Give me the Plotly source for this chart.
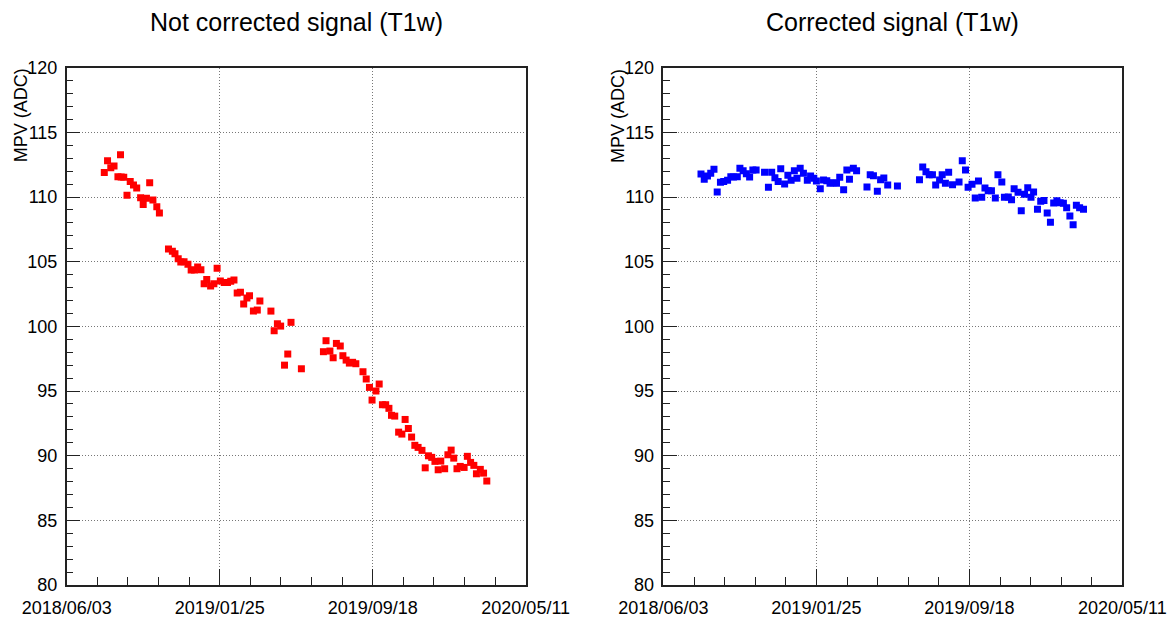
import plotly.graph_objects as go
import pandas as pd
import numpy as np

# ---------------- data ----------------
start_date = "2018-06-03"
end_date = "2020-05-11"
tick_dates = ["2018-06-03", "2019-01-25", "2019-09-18", "2020-05-11"]
tick_labels = ["2018/06/03", "2019/01/25", "2019/09/18", "2020/05/11"]
y_ticks = [80, 85, 90, 95, 100, 105, 110, 115, 120]

titles = ["Not corrected signal (T1w)", "Corrected signal (T1w)"]
y_title = "MPV (ADC)"

# days since 2018-06-03
red_days = [58, 63, 68, 73, 83, 79, 84, 88, 93, 98, 103, 108, 114, 118, 123, 128, 133, 139, 143, 157,
            163, 167, 172, 176, 181, 187, 192, 197, 202, 207, 212, 216, 222, 227, 232, 237, 243, 248, 253, 258,
            263, 268, 273, 278, 282, 288, 294, 298, 315, 320, 325, 330, 336, 341, 346, 362, 396, 400, 406, 411,
            416, 422, 426, 431, 436, 441, 446, 457, 462, 467, 471, 477, 482, 487, 492, 497, 501, 506, 512, 517,
            522, 527, 532, 537, 542, 548, 553, 558, 563, 568, 573, 577, 583, 588, 593, 597, 602, 607, 613, 618,
            623, 628, 632, 638, 643, 648]
red_mpv = [111.9, 112.8, 112.27, 112.4, 113.27, 111.57, 111.55, 111.52, 110.13, 111.2,
           110.93, 110.7, 109.95, 109.43, 109.9, 111.1, 109.77, 109.25, 108.76, 105.98,
           105.8, 105.62, 105.23, 104.97, 105.0, 104.8, 104.35, 104.35, 104.58, 104.38,
           103.3, 103.63, 103.12, 103.3, 104.49, 103.5, 103.4, 103.4, 103.48, 103.58,
           102.58, 102.63, 101.72, 102.19, 102.37, 101.18, 101.26, 101.96, 101.18, 99.66,
           100.2, 100.02, 97.0, 97.86, 100.31, 96.72, 98.04, 98.89, 98.09, 97.57,
           98.68, 98.48, 97.73, 97.39, 97.16, 97.22, 97.11, 96.49, 95.93, 95.28,
           94.3, 95.0, 95.54, 93.94, 93.94, 93.66, 93.12, 93.06, 91.82, 91.67,
           92.8, 92.1, 91.44, 90.8, 90.64, 90.41, 89.06, 89.99, 89.87, 89.56,
           88.91, 89.58, 88.99, 90.07, 90.43, 89.81, 88.99, 89.17, 89.09, 89.95,
           89.48, 89.25, 88.6, 88.94, 88.65, 88.04]

blue_days = [58, 63, 68, 73, 78, 83, 88, 93, 99, 104, 108, 114, 118, 123, 128, 133, 138, 143, 156, 162,
             167, 172, 177, 181, 187, 192, 197, 202, 206, 211, 216, 222, 227, 232, 236, 242, 247, 252, 257, 262,
             267, 272, 278, 283, 287, 293, 298, 314, 319, 324, 330, 335, 340, 346, 361, 395, 400, 405, 410, 415,
             420, 426, 430, 435, 440, 446, 456, 461, 466, 470, 476, 481, 486, 491, 496, 501, 506, 512, 516, 522,
             526, 532, 537, 541, 547, 552, 557, 562, 567, 571, 577, 582, 587, 592, 597, 602, 607, 612, 617, 622,
             627, 632, 637, 642, 648]
blue_mpv = [111.78, 111.37, 111.62, 111.83, 112.14, 110.39, 111.14, 111.21, 111.29, 111.57,
            111.55, 111.57, 112.22, 112.03, 111.8, 111.55, 112.09, 112.09, 111.91, 110.75,
            111.91, 111.49, 111.21, 112.19, 111.0, 111.68, 111.29, 112.03, 111.45, 112.22,
            111.83, 111.29, 111.62, 111.45, 111.24, 110.64, 111.31, 111.26, 111.06, 111.11,
            111.06, 111.52, 110.56, 112.09, 111.37, 112.22, 112.03, 110.77, 111.72, 111.65,
            110.44, 111.34, 111.47, 110.93, 110.85, 111.34, 112.32, 111.96, 111.72, 111.72,
            110.93, 111.31, 111.72, 111.06, 111.91, 110.95, 111.16, 112.81, 112.09, 110.75,
            110.98, 109.92, 111.24, 109.98, 110.7, 110.49, 110.49, 109.92, 111.72, 111.16,
            109.98, 110.0, 109.79, 110.64, 110.36, 108.94, 110.21, 110.72, 109.98, 110.39,
            109.05, 109.67, 109.74, 108.76, 108.04, 109.54, 109.71, 109.56, 109.51, 109.17,
            108.53, 107.86, 109.36, 109.17, 109.05]

# ---------------- figure ----------------
W, H = 1167, 617
base = pd.Timestamp(start_date)
red_x = base + pd.to_timedelta(red_days, unit="D")
blue_x = base + pd.to_timedelta(blue_days, unit="D")

t0 = pd.Timestamp(start_date)
t1 = pd.Timestamp(end_date)
minor_x = [t0 + (t1 - t0) * k / 15 for k in range(16)]

FONT = "Liberation Sans, Arial, Helvetica, sans-serif"
AX = "#222222"
GRID = "#777777"


def fx(p):
    return p / W


def fy(p):
    return 1 - p / H


panels = [(66.7, 525.7), (663.4, 1122.4)]
y_top, y_bot = 67.7, 585.0

fig = go.Figure()
fig.add_trace(go.Scatter(x=red_x, y=red_mpv, mode="markers", xaxis="x", yaxis="y",
                         marker=dict(symbol="square", size=7, color="#ff0000", line=dict(width=0)),
                         showlegend=False, hoverinfo="x+y"))
fig.add_trace(go.Scatter(x=blue_x, y=blue_mpv, mode="markers", xaxis="x2", yaxis="y2",
                         marker=dict(symbol="square", size=7, color="#0000ff", line=dict(width=0)),
                         showlegend=False, hoverinfo="x+y"))

layout = dict(
    width=W, height=H,
    margin=dict(l=0, r=0, t=0, b=0),
    paper_bgcolor="white", plot_bgcolor="white",
    showlegend=False,
    font=dict(family=FONT, color="black"),
)

for i, (xl, xr) in enumerate(panels):
    sx = "" if i == 0 else "2"
    layout["xaxis" + sx] = dict(
        type="date", domain=[fx(xl), fx(xr)], anchor="y" + sx,
        range=[start_date, end_date],
        tickmode="array", tickvals=tick_dates, ticktext=tick_labels,
        ticks="inside", ticklen=16, tickwidth=1, tickcolor=AX,
        showgrid=True, gridcolor=GRID, griddash="1px,2px", gridwidth=1,
        showline=True, linecolor=AX, linewidth=1.5, mirror=True,
        zeroline=False, automargin=False,
        tickfont=dict(family=FONT, size=18, color="black"),
        ticklabelstandoff=6,
        minor=dict(tickmode="array", tickvals=minor_x, ticks="inside", ticklen=8,
                   tickwidth=1, tickcolor=AX, showgrid=False),
    )
    layout["yaxis" + sx] = dict(
        domain=[fy(y_bot), fy(y_top)], anchor="x" + sx,
        range=[80, 120],
        tickmode="array", tickvals=y_ticks,
        ticks="inside", ticklen=14, tickwidth=1, tickcolor=AX,
        showgrid=True, gridcolor=GRID, griddash="1px,2px", gridwidth=1,
        showline=True, linecolor=AX, linewidth=1.5, mirror=True,
        zeroline=False, automargin=False,
        tickfont=dict(family=FONT, size=18, color="black"),
        ticklabelstandoff=4,
        minor=dict(dtick=1, tick0=80, ticks="inside", ticklen=7,
                   tickwidth=1, tickcolor=AX, showgrid=False),
    )

annotations = []
for i, (xl, xr) in enumerate(panels):
    annotations.append(dict(
        text=titles[i], x=fx((xl + xr) / 2), y=fy(22), xref="paper", yref="paper",
        xanchor="center", yanchor="middle", showarrow=False,
        font=dict(family=FONT, size=25, color="black")))
    annotations.append(dict(
        text=y_title, x=fx(xl - 46), y=fy(115.5), xref="paper", yref="paper",
        xanchor="center", yanchor="middle", showarrow=False, textangle=-90,
        font=dict(family=FONT, size=18, color="black")))
layout["annotations"] = annotations

fig.update_layout(**layout)
fig.write_html("out.html")
